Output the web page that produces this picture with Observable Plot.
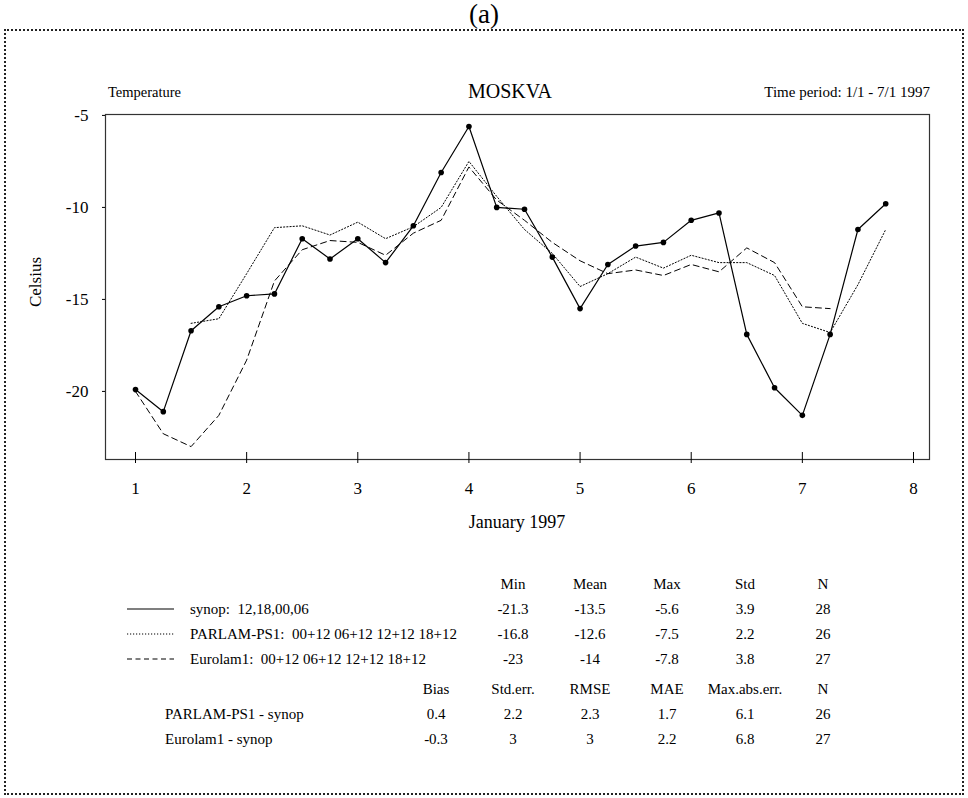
<!DOCTYPE html>
<html><head><meta charset="utf-8">
<script src="https://cdn.jsdelivr.net/npm/d3@7"></script>
<script src="https://cdn.jsdelivr.net/npm/@observablehq/plot@0.6"></script>
<style>
body{margin:0;background:#fff;}
#wrap{position:relative;width:968px;height:798px;font-family:"Liberation Serif","Times New Roman",serif;color:#000;overflow:hidden;}
#wrap svg.plot{position:absolute;left:0;top:0;}
.t{position:absolute;white-space:pre;font-size:15px;line-height:1;}
.c{transform:translate(-50%,-50%);}
.l{transform:translate(0,-50%);}
.r{transform:translate(-100%,-50%);}
#border{position:absolute;left:4px;top:29px;width:956px;height:762px;border:2px dotted #222;}
</style></head><body><div id="wrap"><div id="border"></div></div>
<script>
// ---- data ----
const synopTimes = [1,1.25,1.5,1.75,2,2.25,2.5,2.75,3,3.25,3.5,3.75,4,4.25,4.5,4.75,5,5.25,5.5,5.75,6,6.25,6.5,6.75,7,7.25,7.5,7.75];
const synop = [-19.9,-21.1,-16.7,-15.4,-14.8,-14.7,-11.7,-12.8,-11.7,-13.0,-11.0,-8.1,-5.6,-10.0,-10.1,-12.7,-15.5,-13.1,-12.1,-11.9,-10.7,-10.3,-16.9,-19.8,-21.3,-16.9,-11.2,-9.8];
const parlamTimes = [1.5,1.75,2,2.25,2.5,2.75,3,3.25,3.5,3.75,4,4.25,4.5,4.75,5,5.25,5.5,5.75,6,6.25,6.5,6.75,7,7.25,7.5,7.75];
const parlam = [-16.3,-16.05,-13.6,-11.1,-11.0,-11.5,-10.8,-11.7,-11.05,-10.0,-7.5,-9.4,-11.2,-12.5,-14.3,-13.6,-12.7,-13.3,-12.6,-13.0,-13.0,-13.7,-16.3,-16.8,-14.2,-11.2];
const eurolamTimes = [1,1.25,1.5,1.75,2,2.25,2.5,2.75,3,3.25,3.5,3.75,4,4.25,4.5,4.75,5,5.25,5.5,5.75,6,6.25,6.5,6.75,7,7.25];
const eurolam = [-20.0,-22.3,-23.0,-21.3,-18.3,-14.0,-12.3,-11.8,-11.9,-12.6,-11.4,-10.7,-7.8,-9.6,-10.7,-11.9,-12.9,-13.6,-13.4,-13.7,-13.1,-13.5,-12.2,-13.0,-15.4,-15.5];
const xTicks = [1,2,3,4,5,6,7,8];
const yTicks = [-20,-15,-10,-5];
const xDomain = [0.73, 8.144];
const yDomain = [-23.7, -4.95];

const statHeaders = ["Min","Mean","Max","Std","N"];
const seriesLabels = ["synop:  12,18,00,06","PARLAM-PS1:  00+12 06+12 12+12 18+12","Eurolam1:  00+12 06+12 12+12 18+12"];
const seriesDash = ["none","1.2,1.8","5,3.5"];
const statRows = [["-21.3","-13.5","-5.6","3.9","28"],["-16.8","-12.6","-7.5","2.2","26"],["-23","-14","-7.8","3.8","27"]];
const errHeaders = ["Bias","Std.err.","RMSE","MAE","Max.abs.err.","N"];
const errLabels = ["PARLAM-PS1 - synop","Eurolam1 - synop"];
const errRows = [["0.4","2.2","2.3","1.7","6.1","26"],["-0.3","3","3","2.2","6.8","27"]];

// ---- chart ----
const toRows = (ts, vs) => ts.map((t,i)=>({t, v: vs[i]}));
const chart = Plot.plot({
  width: 968, height: 798,
  marginLeft: 105, marginRight: 39, marginTop: 114, marginBottom: 339,
  style: {fontFamily: '"Liberation Serif","Times New Roman",serif', fontSize: "17px", background: "transparent", color: "#000"},
  x: {domain: xDomain},
  y: {domain: yDomain},
  marks: [
    Plot.frame({stroke: "#333", strokeWidth: 1.2}),
    Plot.axisY({ticks: yTicks, tickSize: 3, tickPadding: 14, label: null, tickFormat: d => String(d), fontSize: 17}),
    Plot.axisX({ticks: xTicks, tickSize: 11, dy: -7, tickFormat: () => "", label: null}),
    Plot.axisX({ticks: xTicks, tickSize: 0, tickPadding: 22, label: null, tickFormat: d => String(d), fontSize: 17}),
    Plot.line(toRows(eurolamTimes, eurolam), {x: "t", y: "v", stroke: "#000", strokeWidth: 1, strokeDasharray: "6,4"}),
    Plot.line(toRows(parlamTimes, parlam), {x: "t", y: "v", stroke: "#000", strokeWidth: 1, strokeDasharray: "1.2,2"}),
    Plot.line(toRows(synopTimes, synop), {x: "t", y: "v", stroke: "#000", strokeWidth: 1.2}),
    Plot.dot(toRows(synopTimes, synop), {x: "t", y: "v", r: 2.8, fill: "#000", stroke: "none"})
  ]
});
chart.classList.add("plot");
const wrap = document.getElementById("wrap");
wrap.appendChild(chart);

function txt(s, x, y, cls, size){
  const d = document.createElement("div");
  d.className = "t " + cls;
  d.textContent = s;
  d.style.left = x + "px"; d.style.top = y + "px";
  if (size) d.style.fontSize = size + "px";
  wrap.appendChild(d);
  return d;
}
// titles
txt("(a)", 484, 14, "c", 27);
txt("Temperature", 108, 92, "l", 14.5);
txt("MOSKVA", 510, 91, "c", 20);
txt("Time period: 1/1 - 7/1 1997", 930, 92, "r", 15);
const cel = txt("Celsius", 35, 282, "c", 17);
cel.style.transform = "translate(-50%,-50%) rotate(-90deg)";
txt("January 1997", 517, 522, "c", 18);

// stats table
const cols = [513, 590, 667, 745, 823];
const rowY = [584, 609, 634, 659];
statHeaders.forEach((h,j)=>txt(h, cols[j], rowY[0], "c"));
statRows.forEach((r,i)=>{
  const y = rowY[i+1];
  const svgNS = "http://www.w3.org/2000/svg";
  const s = document.createElementNS(svgNS, "svg");
  s.setAttribute("width", 50); s.setAttribute("height", 6);
  s.style.position = "absolute"; s.style.left = "125px"; s.style.top = (y-3) + "px";
  const ln = document.createElementNS(svgNS, "line");
  ln.setAttribute("x1", 2); ln.setAttribute("x2", 49); ln.setAttribute("y1", 3); ln.setAttribute("y2", 3);
  ln.setAttribute("stroke", "#000"); ln.setAttribute("stroke-width", 1.2);
  if (seriesDash[i] !== "none") ln.setAttribute("stroke-dasharray", seriesDash[i]);
  s.appendChild(ln); wrap.appendChild(s);
  txt(seriesLabels[i], 190, y, "l");
  r.forEach((v,j)=>txt(v, cols[j], y, "c"));
});
// error table
const ecols = [436, 513, 590, 667, 745, 823];
const erowY = [689, 714, 739];
errHeaders.forEach((h,j)=>txt(h, ecols[j], erowY[0], "c"));
errRows.forEach((r,i)=>{
  txt(errLabels[i], 165, erowY[i+1], "l");
  r.forEach((v,j)=>txt(v, ecols[j], erowY[i+1], "c"));
});
</script>
</body></html>
